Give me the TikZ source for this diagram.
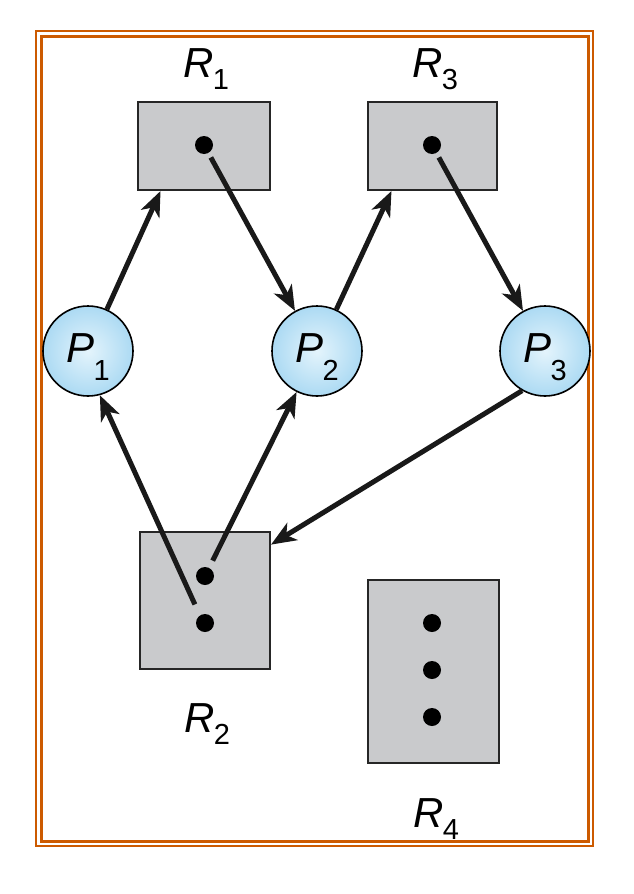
\documentclass[tikz,border=0pt]{standalone}
\usepackage{fontspec}
\setmainfont{Liberation Sans}
\usetikzlibrary{arrows.meta}
\definecolor{rgframe}{HTML}{CC5A00}
\definecolor{rggray}{HTML}{C9CACC}
\definecolor{rgblue}{HTML}{ACDAF3}
\definecolor{rglight}{HTML}{E4F4FC}
\newcommand{\rsub}[3][12pt]{{\itshape #2}\kern-0.5pt\raisebox{-#1}{\fontsize{29}{29}\selectfont #3}}

\begin{document}
\begin{tikzpicture}[x=1pt, y=-1pt,
  res/.style={draw=black!85, line width=2pt, fill=rggray, inner sep=0pt},
  proc/.style={circle, draw=black, line width=1.6pt, shading=radial,
               inner color=rglight, outer color=rgblue, minimum size=90pt,
               inner sep=0pt, font=\fontsize{42}{42}\selectfont,
               text height=30pt, text depth=8pt},
  inst/.style={circle, fill=black, minimum size=18pt, inner sep=0pt},
  lbl/.style={font=\fontsize{42}{42}\selectfont, anchor=base, inner sep=0pt},
  reqarrow/.style={-{Stealth[length=25pt, width=20pt, inset=7pt]},
                   line width=5pt, black!90}
]
  \useasboundingbox (0,0) rectangle (634,894);

  % Frame
  \draw[rgframe, line width=2.4pt] (36,31) rectangle (593,846);
  \draw[rgframe, line width=3pt] (41.5,36) rectangle (588.5,841);

  % Resources
  \node[res, minimum width=132pt, minimum height=88pt] (R1) at (204,146) {};
  \node[res, minimum width=129pt, minimum height=88pt] (R3) at (432,146) {};
  \node[res, minimum width=130pt, minimum height=137pt] (R2) at (205,600) {};
  \node[res, minimum width=131pt, minimum height=183pt] (R4) at (433,671) {};

  % Instances
  \node[inst] (d1) at (204,145) {};
  \node[inst] (d3) at (432,145) {};
  \node[inst] (d2a) at (205,576) {};
  \node[inst] (d2b) at (205,623) {};
  \node[inst] (d4a) at (432,623) {};
  \node[inst] (d4b) at (432,670) {};
  \node[inst] (d4c) at (432,717) {};

  % Labels
  \node[lbl] (l1) at (206,77) {\rsub{R}{1}};
  \node[lbl] (l3) at (435,77) {\rsub{R}{3}};
  \node[lbl] (l2) at (207,732) {\rsub{R}{2}};
  \node[lbl] (l4) at (436,827) {\rsub{R}{4}};

  % Processes
  \node[proc] (P1) at (88,351) {\rsub[18pt]{P}{1}};
  \node[proc] (P2) at (317,351) {\rsub[18pt]{P}{2}};
  \node[proc] (P3) at (545,351) {\rsub[18pt]{P}{3}};

  % Edges
  \draw[reqarrow] (P1) -- (R1.226);
  \draw[reqarrow, shorten <=5pt] (d1) -- (P2);
  \draw[reqarrow] (P2) -- (R3.228);
  \draw[reqarrow, shorten <=5pt] (d3) -- (P3);
  \draw[reqarrow] (P3.240) -- (R2.40);
  \draw[reqarrow, shorten <=12pt] (d2b.124) -- (P1.285);
  \draw[reqarrow, shorten <=8pt] (d2a) -- (P2);
\end{tikzpicture}
\end{document}
